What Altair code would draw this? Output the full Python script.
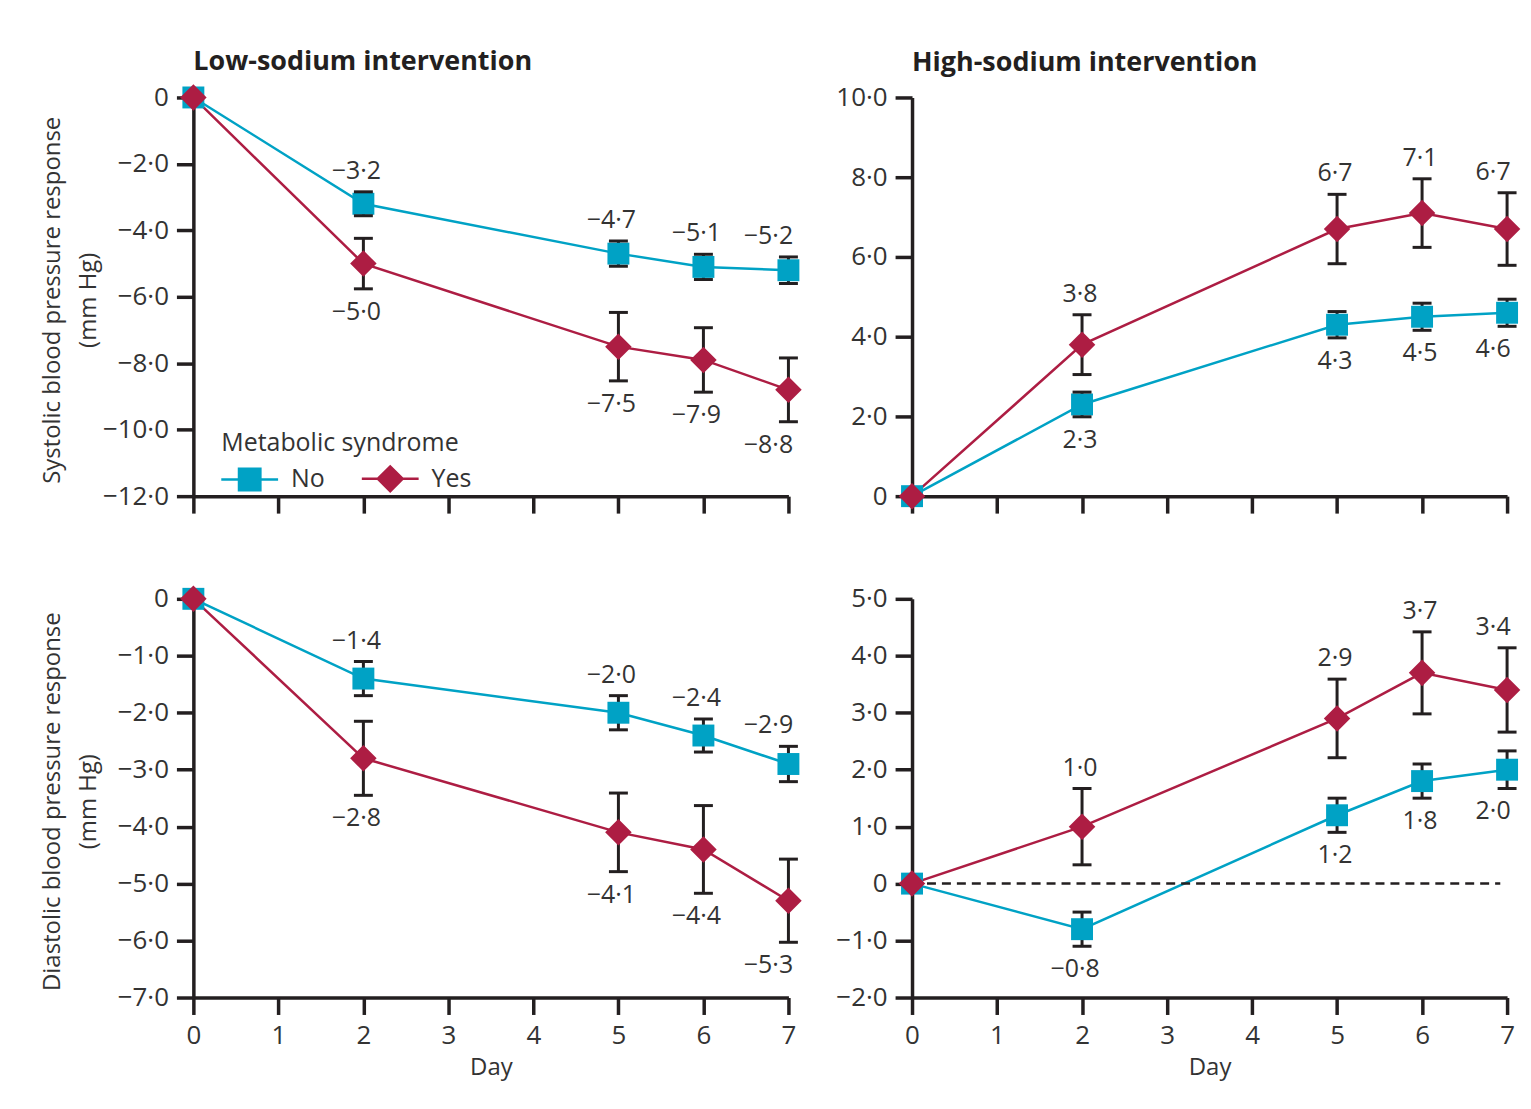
import altair as alt
import pandas as pd

# ---------------- data ----------------
days = [0, 2, 5, 6, 7]
x_ticks = [0, 1, 2, 3, 4, 5, 6, 7]

# Systolic, low-sodium
sys_low_no = [0.0, -3.2, -4.7, -5.1, -5.2]
sys_low_no_err = [0.0, 0.36, 0.38, 0.38, 0.40]
sys_low_yes = [0.0, -5.0, -7.5, -7.9, -8.8]
sys_low_yes_err = [0.0, 0.76, 1.03, 0.97, 0.96]
sys_low_ticks = [-12, -10, -8, -6, -4, -2, 0]

# Systolic, high-sodium
sys_high_no = [0.0, 2.3, 4.3, 4.5, 4.6]
sys_high_no_err = [0.0, 0.31, 0.33, 0.34, 0.34]
sys_high_yes = [0.0, 3.8, 6.7, 7.1, 6.7]
sys_high_yes_err = [0.0, 0.75, 0.87, 0.86, 0.91]
sys_high_ticks = [0, 2, 4, 6, 8, 10]

# Diastolic, low-sodium
dia_low_no = [0.0, -1.4, -2.0, -2.4, -2.9]
dia_low_no_err = [0.0, 0.30, 0.30, 0.29, 0.31]
dia_low_yes = [0.0, -2.8, -4.1, -4.4, -5.3]
dia_low_yes_err = [0.0, 0.65, 0.69, 0.77, 0.73]
dia_low_ticks = [-7, -6, -5, -4, -3, -2, -1, 0]

# Diastolic, high-sodium
dia_high_no = [0.0, -0.8, 1.2, 1.8, 2.0]
dia_high_no_err = [0.0, 0.30, 0.30, 0.30, 0.33]
dia_high_yes = [0.0, 1.0, 2.9, 3.7, 3.4]
dia_high_yes_err = [0.0, 0.67, 0.69, 0.72, 0.74]
dia_high_ticks = [-2, -1, 0, 1, 2, 3, 4, 5]
zero_ref = [0.0, 6.92]   # reference line at 0 (x extent in days)

groups = ["No", "Yes"]

# ---------------- styling ----------------
BLUE = "#00a2c5"
RED = "#ad1d43"
INK = "#231f20"
TXT = "#333333"
FONT = "Open Sans"
W, H = 597, 400

SQ_PATH = ("M-1,-0.044H1V0.044H-1Z "
           "M-0.42,-0.42H0.42V0.42H-0.42Z")
DM_PATH = ("M-1,-0.044H1V0.044H-1Z "
           "M0,-0.5L0.5,0L0,0.5L-0.5,0Z")


def fmt(v):
    s = f"{abs(v):.1f}".replace(".", "\u00b7")
    return ("\u2212" + s) if v < 0 else s


def panel_df(no, no_err, yes, yes_err, upper):
    rows = []
    for g, vals, errs in (("No", no, no_err), ("Yes", yes, yes_err)):
        for d, v, e in zip(days, vals, errs):
            above = g == upper
            rows.append(dict(day=d, group=g, value=v, lo=v - e, hi=v + e,
                             label=fmt(v), pos="above" if above else "below",
                             ly=v + e if above else v - e, neg=bool(v < 0)))
    return pd.DataFrame(rows)


YLABEL = ("datum.value == 0 ? '0' : "
          "replace(format(datum.value, '.1f'), '.', '\u00b7')")


def panel(df, ydom, yticks, ytitle=None, show_x=False, title=None,
          legend=False, zero_line=False):
    xaxis_kw = dict(values=x_ticks, labels=show_x, title="Day" if show_x else None,
                    titlePadding=7, format="d", labelFlush=False)
    xscale = alt.Scale(domain=[0, 7], nice=False, zero=False)
    xenc = alt.X("day:Q", scale=xscale, axis=alt.Axis(**xaxis_kw))
    yaxis_kw = dict(values=yticks, labelExpr=YLABEL, labelFlush=False)
    if ytitle:
        yaxis_kw.update(title=ytitle, titleX=-153, titleY=H / 2 + 3, titleAngle=-90,
                        titleAlign="center", titleBaseline="top",
                        titleLineHeight=36)
    else:
        yaxis_kw.update(title=None)
    yscale = alt.Scale(domain=ydom, nice=False, zero=False)

    def Y(field):
        return alt.Y(f"{field}:Q", scale=yscale, axis=alt.Axis(**yaxis_kw))

    is_no = alt.datum.group == "No"
    col = alt.condition(is_no, alt.value(BLUE), alt.value(RED))
    base = alt.Chart(df)
    err = base.transform_filter("datum.day > 0")
    layers = []
    layers.append(base.mark_line(strokeWidth=2.5).encode(
        x=xenc, y=Y("value"), detail="group:N", color=col))
    if zero_line:
        zdf = pd.DataFrame({"x0": [zero_ref[0]], "x1": [zero_ref[1]], "y0": [0.0]})
        layers.append(
            alt.Chart(zdf).mark_rule(color=INK, strokeWidth=2.5, strokeDash=[9, 6])
            .encode(x=alt.X("x0:Q", scale=xscale, axis=alt.Axis(**xaxis_kw)),
                    x2="x1:Q", y=Y("y0"))
        )
    layers.append(err.mark_rule(color=INK, strokeWidth=3).encode(
        x=xenc, y=Y("lo"), y2="hi:Q"))
    layers.append(base.mark_point(filled=True, opacity=1, strokeWidth=0).encode(
        x=xenc, y=Y("value"),
        shape=alt.condition(is_no, alt.value("square"), alt.value("diamond")),
        size=alt.condition(is_no, alt.value(484), alt.value(708)),
        color=col))
    for f in ("lo", "hi"):
        layers.append(err.mark_tick(orient="horizontal", size=19, thickness=3,
                                    color=INK, opacity=1).encode(x=xenc, y=Y(f)))
    # value labels
    dx_rules = [
        ("datum.day == 7 && datum.neg", -20),
        ("datum.day == 7 && !datum.neg", -14),
        ("datum.day < 7 && datum.neg", -7),
        ("datum.day < 7 && !datum.neg", -2),
    ]
    for cond, dx in dx_rules:
        for pos, baseline, dy in (("above", "alphabetic", -13), ("below", "top", 11)):
            layers.append(
                err.transform_filter(f"({cond}) && datum.pos == '{pos}'")
                .mark_text(font=FONT, fontSize=25, color=TXT, baseline=baseline,
                           align="center", dx=dx, dy=dy)
                .encode(x=xenc, y=Y("ly"), text="label:N")
            )
    if legend:
        leg = alt.Legend(title="Metabolic syndrome", orient="none", legendX=28,
                         legendY=335, direction="horizontal", titleFont=FONT,
                         titleFontSize=25, titleFontWeight="normal", titleColor=TXT,
                         titleLimit=500, labelLimit=200,
                         labelFont=FONT, labelFontSize=25, labelColor=TXT,
                         symbolSize=3249, symbolStrokeWidth=0, symbolOpacity=1,
                         labelOffset=13, columnPadding=37, titlePadding=-6,
                         padding=0)
        layers.append(
            base.transform_filter("datum.day < 0").mark_point(filled=True, opacity=1)
            .encode(
                x=xenc, y=Y("value"),
                color=alt.Color("group:N", scale=alt.Scale(domain=groups, range=[BLUE, RED]),
                                legend=leg),
                shape=alt.Shape("group:N", scale=alt.Scale(domain=groups,
                                                           range=[SQ_PATH, DM_PATH]),
                                legend=leg),
            )
        )
    props = dict(width=W, height=H)
    if title:
        props["title"] = alt.TitleParams(title, anchor="start", frame="group",
                                         font=FONT, fontSize=27, fontWeight="bold",
                                         color=INK, offset=8)
    return alt.layer(*layers).properties(**props)


p1 = panel(panel_df(sys_low_no, sys_low_no_err, sys_low_yes, sys_low_yes_err, "No"),
           [-12, 0], sys_low_ticks,
           ytitle=["Systolic blood pressure response", "(mm Hg)"],
           title="Low-sodium intervention", legend=True)
p2 = panel(panel_df(sys_high_no, sys_high_no_err, sys_high_yes, sys_high_yes_err, "Yes"),
           [0, 10], sys_high_ticks, title="High-sodium intervention")
p3 = panel(panel_df(dia_low_no, dia_low_no_err, dia_low_yes, dia_low_yes_err, "No"),
           [-7, 0], dia_low_ticks,
           ytitle=["Diastolic blood pressure response", "(mm Hg)"], show_x=True)
p4 = panel(panel_df(dia_high_no, dia_high_no_err, dia_high_yes, dia_high_yes_err, "Yes"),
           [-2, 5], dia_high_ticks, show_x=True, zero_line=True)

chart = (
    alt.concat(p1, p2, p3, p4, columns=2, spacing={"row": 70, "column": 33})
    .resolve_scale(color="independent", shape="independent")
    .resolve_legend(color="independent", shape="independent")
    .properties(padding={"left": 40, "top": 46, "right": 10, "bottom": 10},
                background="white")
    .configure_view(strokeWidth=0)
    .configure_axis(domainColor=INK, domainWidth=3.5, tickColor=INK, tickWidth=3.5,
                    tickSize=17, labelFont=FONT, labelFontSize=26, labelColor=TXT,
                    labelPadding=8, titleFont=FONT, titleFontSize=24,
                    titleFontWeight="normal", titleColor=TXT, grid=False)
)

chart.save("out.html", embed_options={"renderer": "svg", "actions": False})
